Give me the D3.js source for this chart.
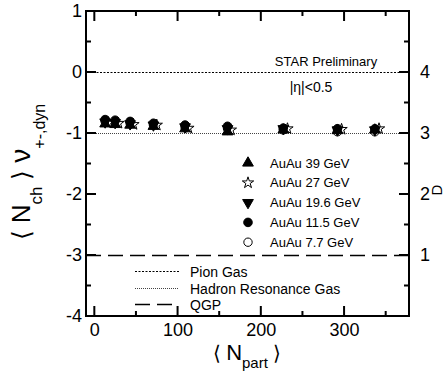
<!DOCTYPE html>
<html>
<head>
<meta charset="utf-8">
<script src="https://cdn.jsdelivr.net/npm/d3@7"></script>
<style>
  body { margin: 0; background: #fff; }
  text { font-family: "Liberation Sans", Arial, sans-serif; fill: #000; }
</style>
</head>
<body>
<figure id="chart" style="margin:0"></figure>
<script>
// centrality bins, <Npart>
const npart = [13, 25, 43, 71, 109, 160, 227, 292, 337];
const npart27 = [17, 29, 47, 75, 113, 164, 232, 297, 342];

const au39 = [-0.85, -0.86, -0.87, -0.89, -0.93, -0.98, -0.95, -0.96, -0.95];
const au27 = [-0.83, -0.84, -0.86, -0.87, -0.92, -0.95, -0.93, -0.94, -0.93];
const au196 = [-0.82, -0.83, -0.85, -0.87, -0.90, -0.93, -0.93, -0.95, -0.95];
const au115 = [-0.78, -0.79, -0.81, -0.84, -0.87, -0.89, -0.92, -0.93, -0.93];
const au77 = [-0.81, -0.82, -0.84, -0.87, -0.91, -0.93, -0.95, -0.98, -0.98];

const xTicks = [0, 100, 200, 300];
const xMinor = [50, 150, 250, 350];
const yTicks = [1, 0, -1, -2, -3, -4];
const yMinor = [0.5, -0.5, -1.5, -2.5, -3.5];
const dTicks = [1, 2, 3, 4];
const dMinor = [0.5, 1.5, 2.5, 3.5, 4.5];

const pionGas = 0;
const hadronGas = -1;
const qgp = -3;

const W = 445, H = 371;
const margin = { top: 11, right: 36, bottom: 55, left: 86 };
const plotW = W - margin.left - margin.right;
const plotH = H - margin.top - margin.bottom;

const svg = d3.select('figure#chart')
  .append('svg')
  .attr('width', W)
  .attr('height', H);

const g = svg.append('g')
  .attr('transform', 'translate(' + margin.left + ',' + margin.top + ')');

const x = d3.scaleLinear().domain([-10, 378]).range([0, plotW]);
const y = d3.scaleLinear().domain([-4, 1]).range([plotH, 0]);
// D = value + 4
const yD = d3.scaleLinear().domain([0, 5]).range([plotH, 0]);

// reference lines
const refLines = [
  { v: pionGas, dash: '2,1.5', w: 1, c: '#000' },
  { v: hadronGas, dash: '1,1', w: 1, c: '#444' },
  { v: qgp, dash: '15,7', w: 1.5, c: '#000' }
];
refLines.forEach(r => {
  g.append('line')
    .attr('x1', 0).attr('x2', plotW)
    .attr('y1', Math.round(y(r.v)) + 0.5).attr('y2', Math.round(y(r.v)) + 0.5)
    .attr('stroke', r.c).attr('stroke-width', r.w)
    .attr('stroke-dasharray', r.dash);
});

// tick labels through d3 axes
g.append('g').attr('transform', 'translate(0,' + plotH + ')')
  .call(d3.axisBottom(x).tickValues(xTicks).tickSize(0).tickPadding(7).tickFormat(d => String(d)));
g.append('g')
  .call(d3.axisLeft(y).tickValues(yTicks).tickSize(0).tickPadding(4).tickFormat(d => String(d)));
g.append('g').attr('transform', 'translate(' + plotW + ',0)')
  .call(d3.axisRight(yD).tickValues(dTicks).tickSize(0).tickPadding(11).tickFormat(d => String(d)));
g.selectAll('.domain').remove();
g.selectAll('.tick text').style('font-size', '18px').attr('fill', '#000');

// series
const series = [
  { name: 'AuAu 7.7 GeV', xs: npart, ys: au77, sym: d3.symbolCircle, size: 55, fill: '#fff' },
  { name: 'AuAu 27 GeV', xs: npart27, ys: au27, sym: d3.symbolStar, size: 40, fill: '#fff' },
  { name: 'AuAu 39 GeV', xs: npart, ys: au39, sym: d3.symbolTriangle, size: 50, fill: '#000' },
  { name: 'AuAu 19.6 GeV', xs: npart, ys: au196, sym: d3.symbolTriangle, size: 50, fill: '#000', rot: 180 },
  { name: 'AuAu 11.5 GeV', xs: npart, ys: au115, sym: d3.symbolCircle, size: 58, fill: '#000' }
];

series.forEach(s => {
  g.append('g').selectAll('path')
    .data(s.ys.map((v, i) => [s.xs[i], v]))
    .enter()
    .append('path')
    .attr('d', d3.symbol().type(s.sym).size(s.size))
    .attr('transform', d => 'translate(' + x(d[0]) + ',' + y(d[1]) + ')' + (s.rot ? ' rotate(' + s.rot + ')' : ''))
    .attr('fill', s.fill)
    .attr('stroke', '#000')
    .attr('stroke-width', 1);
});

// marker legend
const legendOrder = ['AuAu 39 GeV', 'AuAu 27 GeV', 'AuAu 19.6 GeV', 'AuAu 11.5 GeV', 'AuAu 7.7 GeV'];
legendOrder.forEach((name, i) => {
  const s = series.find(d => d.name === name);
  const ly = 152 + i * 19.8;
  g.append('path')
    .attr('d', d3.symbol().type(s.sym).size(s.size))
    .attr('transform', 'translate(' + (248 - margin.left) + ',' + ly + ')' + (s.rot ? ' rotate(' + s.rot + ')' : ''))
    .attr('fill', s.fill).attr('stroke', '#000').attr('stroke-width', 1);
  g.append('text')
    .attr('x', 270 - margin.left).attr('y', ly + 4.5)
    .style('font-size', '13px')
    .text(name);
});

// line legend
const lineLegend = [
  { name: 'Pion Gas', r: refLines[0] },
  { name: 'Hadron Resonance Gas', r: refLines[1] },
  { name: 'QGP', r: refLines[2] }
];
lineLegend.forEach((d, i) => {
  const ly = Math.round(260 + i * 16.5) + 0.5;
  g.append('line')
    .attr('x1', 135 - margin.left).attr('x2', 179 - margin.left)
    .attr('y1', ly).attr('y2', ly)
    .attr('stroke', d.r.c).attr('stroke-width', d.r.w)
    .attr('stroke-dasharray', d.r.dash);
  g.append('text')
    .attr('x', 190 - margin.left).attr('y', ly + 5)
    .style('font-size', '14px')
    .text(d.name);
});

// annotations
g.append('text').attr('x', 326 - margin.left).attr('y', 66 - margin.top)
  .attr('text-anchor', 'middle').style('font-size', '13px').text('STAR Preliminary');
g.append('text').attr('x', 311 - margin.left).attr('y', 92 - margin.top)
  .attr('text-anchor', 'middle').style('font-size', '14px').text('|η|<0.5');

// frame and inward ticks as a single stroked path, drawn last
const fp = d3.path();
fp.rect(0, 0, plotW, plotH);
xTicks.concat(xMinor).forEach(v => {
  const len = xTicks.includes(v) ? 10 : 5;
  fp.moveTo(x(v), plotH); fp.lineTo(x(v), plotH - len);
  fp.moveTo(x(v), 0); fp.lineTo(x(v), len);
});
yTicks.concat(yMinor).forEach(v => {
  const len = yTicks.includes(v) ? 10 : 5;
  fp.moveTo(0, y(v)); fp.lineTo(len, y(v));
});
dTicks.concat(dMinor).forEach(v => {
  const len = dTicks.includes(v) ? 10 : 5;
  fp.moveTo(plotW, yD(v)); fp.lineTo(plotW - len, yD(v));
});
svg.append('path')
  .attr('transform', 'translate(' + margin.left + ',' + margin.top + ')')
  .attr('d', fp.toString())
  .style('fill', 'none')
  .style('stroke', '#000')
  .style('stroke-width', '2px');

// axis titles
const xt = svg.append('text')
  .attr('x', 247).attr('y', 360)
  .attr('text-anchor', 'middle');
xt.append('tspan').style('font-size', '20px').text('⟨ ');
xt.append('tspan').style('font-size', '22px').text('N');
xt.append('tspan').style('font-size', '15px').attr('dy', 8).text('part');
xt.append('tspan').style('font-size', '20px').attr('dy', -8).text(' ⟩');

const yt = svg.append('text')
  .attr('transform', 'translate(30,172) rotate(-90)')
  .attr('text-anchor', 'middle');
yt.append('tspan').style('font-size', '25px').text('⟨ ');
yt.append('tspan').style('font-size', '26px').text('N');
yt.append('tspan').style('font-size', '17px').attr('dy', 12).text('ch');
yt.append('tspan').style('font-size', '25px').attr('dy', -12).text(' ⟩ ');
yt.append('tspan').style('font-size', '28px').text('ν');
yt.append('tspan').style('font-size', '16px').attr('dy', 15).text('+-,dyn');

svg.append('text')
  .attr('transform', 'translate(442,190) rotate(-90)')
  .attr('text-anchor', 'middle')
  .style('font-size', '15px')
  .text('D');
</script>
</body>
</html>
